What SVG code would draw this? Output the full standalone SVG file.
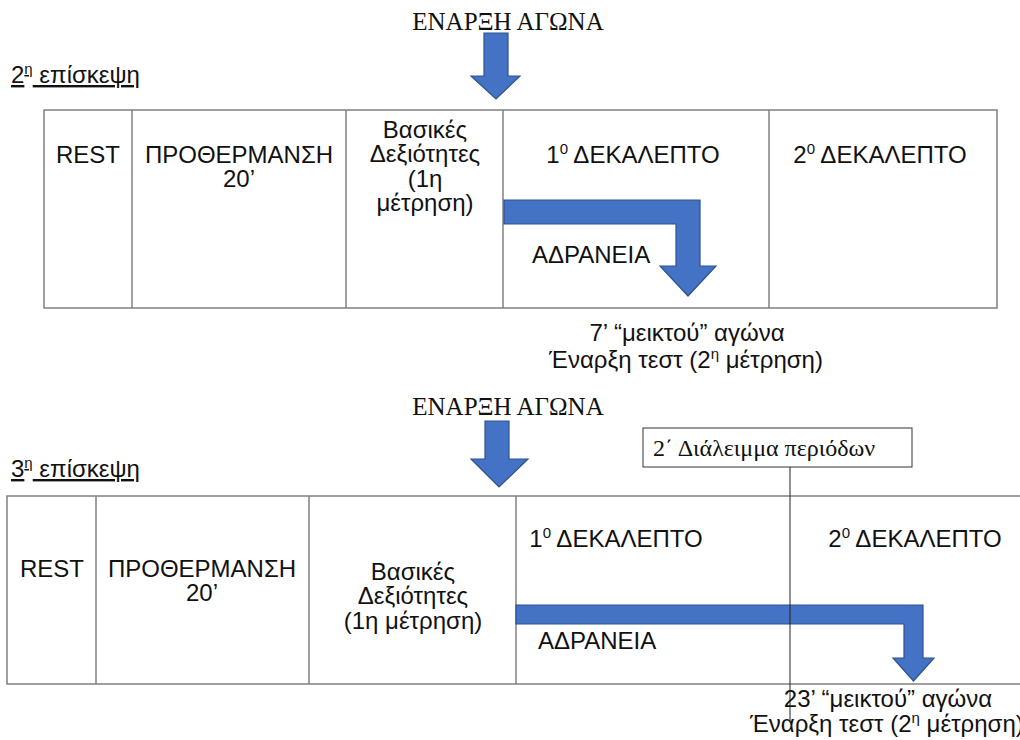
<svg xmlns="http://www.w3.org/2000/svg" width="1020" height="740" viewBox="0 0 1020 740">
<defs>
<style>
.t{font-family:"Liberation Sans",Arial,sans-serif;font-size:24px;fill:#111;}
.s{font-family:"Liberation Serif","Times New Roman",serif;fill:#111;}
.cell{fill:#fff;stroke:#808080;stroke-width:1.5;}
.arr{fill:#4472C4;stroke:#2F528F;stroke-width:1.2;}
.hd{font-family:"Liberation Sans",Arial,sans-serif;font-size:24px;fill:#111;text-decoration:underline;}
</style>
</defs>
<rect width="1020" height="740" fill="#fff"/>

<!-- Section 2 -->
<g id="visit2-title"><text class="hd" x="11" y="83">2<tspan font-size="15" dy="-9">η</tspan><tspan dy="9"> επίσκεψη</tspan></text></g>
<g id="start1"><text class="s" x="508" y="30" font-size="25" text-anchor="middle">ΕΝΑΡΞΗ ΑΓΩΝΑ</text></g>

<g id="table2">
<rect class="cell" x="44" y="110" width="953" height="198"/>
<line class="cell" x1="132" y1="110" x2="132" y2="308"/>
<line class="cell" x1="346" y1="110" x2="346" y2="308"/>
<line class="cell" x1="503" y1="110" x2="503" y2="308"/>
<line class="cell" x1="769" y1="110" x2="769" y2="308"/>
</g>
<g id="rest2"><text class="t" x="88" y="163" text-anchor="middle">REST</text></g>
<g id="warm2"><text class="t" x="239" y="163" text-anchor="middle">ΠΡΟΘΕΡΜΑΝΣΗ</text><text class="t" x="239" y="187" text-anchor="middle">20’</text></g>
<g id="skills2"><text class="t" text-anchor="middle"><tspan x="425" y="138">Βασικές</tspan><tspan x="425" y="162">Δεξιότητες</tspan><tspan x="425" y="187">(1η</tspan><tspan x="425" y="211">μέτρηση)</tspan></text></g>
<g id="p1-2"><text class="t" x="633" y="163" text-anchor="middle">1<tspan font-size="15" dy="-9">0</tspan><tspan dy="9"> ΔΕΚΑΛΕΠΤΟ</tspan></text></g>
<g id="p2-2"><text class="t" x="880" y="163" text-anchor="middle">2<tspan font-size="15" dy="-9">0</tspan><tspan dy="9"> ΔΕΚΑΛΕΠΤΟ</tspan></text></g>
<g id="inertia2"><text class="t" x="532" y="263">ΑΔΡΑΝΕΙΑ</text></g>
<g id="note2"><text class="t" x="687" y="341" text-anchor="middle">7’ “μεικτού” αγώνα</text><text class="t" x="686" y="368" text-anchor="middle">Έναρξη τεστ (2<tspan font-size="15" dy="-9">η</tspan><tspan dy="9"> μέτρηση)</tspan></text></g>

<!-- Section 3 -->
<g id="visit3-title"><text class="hd" x="11" y="477">3<tspan font-size="15" dy="-9">η</tspan><tspan dy="9"> επίσκεψη</tspan></text></g>
<g id="start2"><text class="s" x="508" y="415" font-size="25" text-anchor="middle">ΕΝΑΡΞΗ ΑΓΩΝΑ</text></g>
<g id="break"><rect x="643" y="428" width="269" height="39" fill="#fff" stroke="#333" stroke-width="1"/><text class="s" x="653" y="456" font-size="24">2΄ Διάλειμμα περιόδων</text></g>

<g id="table3">
<rect class="cell" x="7" y="496" width="1020" height="188"/>
<line class="cell" x1="96" y1="496" x2="96" y2="684"/>
<line class="cell" x1="309" y1="496" x2="309" y2="684"/>
<line class="cell" x1="516" y1="496" x2="516" y2="684"/>
</g>
<g id="rest3"><text class="t" x="52" y="577" text-anchor="middle">REST</text></g>
<g id="warm3"><text class="t" x="202" y="577" text-anchor="middle">ΠΡΟΘΕΡΜΑΝΣΗ</text><text class="t" x="202" y="601" text-anchor="middle">20’</text></g>
<g id="skills3"><text class="t" text-anchor="middle"><tspan x="413" y="580">Βασικές</tspan><tspan x="413" y="604">Δεξιότητες</tspan><tspan x="413" y="629">(1η μέτρηση)</tspan></text></g>
<g id="p1-3"><text class="t" x="616" y="547" text-anchor="middle">1<tspan font-size="15" dy="-9">0</tspan><tspan dy="9"> ΔΕΚΑΛΕΠΤΟ</tspan></text></g>
<g id="p2-3"><text class="t" x="915" y="547" text-anchor="middle">2<tspan font-size="15" dy="-9">0</tspan><tspan dy="9"> ΔΕΚΑΛΕΠΤΟ</tspan></text></g>
<g id="inertia3"><text class="t" x="538" y="649">ΑΔΡΑΝΕΙΑ</text></g>
<g id="note3"><text class="t" x="888" y="707" text-anchor="middle">23’ “μεικτού” αγώνα</text><text class="t" x="750" y="732">Έναρξη τεστ (2<tspan font-size="15" dy="-9">η</tspan><tspan dy="9"> μέτρηση)</tspan></text></g>

<g id="connectors">
<polygon class="arr" points="484,33 508,33 508,76 520,76 496,99 471,76 484,76"/>
<polygon class="arr" points="504,200 700,200 700,266 716,266 688,296 660,266 676,266 676,224 504,224"/>
<polygon class="arr" points="485,421 509,421 509,459 528,459 499,487 471,459 485,459"/>
<polygon class="arr" points="516,605 923,605 923,658 934,658 913.5,681 893,658 904,658 904,624 516,624"/>
<line x1="790" y1="467" x2="790" y2="722" stroke="#222" stroke-width="1"/>
</g>
</svg>
